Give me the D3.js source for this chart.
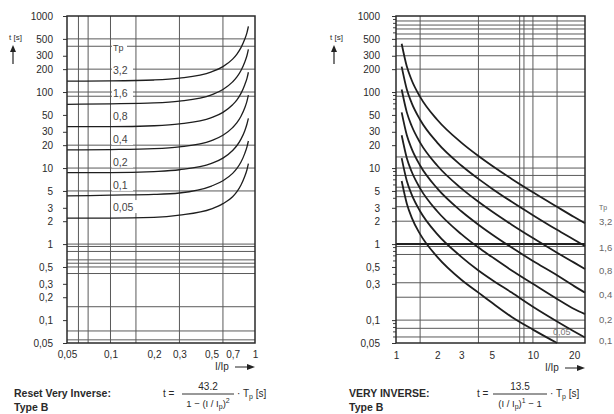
<!DOCTYPE html>
<html>
<head>
<meta charset="utf-8">
<script src="https://cdn.jsdelivr.net/npm/d3@7"></script>
<style>
  body { margin: 0; background: #fff; }
  svg text { font-family: "Liberation Sans", Arial, sans-serif; fill: #2a2a2a; }
</style>
</head>
<body>
<script>
// ---- data ----
const tpLabels = ['3,2', '1,6', '0,8', '0,4', '0,2', '0,1', '0,05'];

// reset very inverse (left)
const resetX = [0.05, 0.1, 0.2, 0.3, 0.5, 0.6, 0.7, 0.75, 0.8, 0.85, 0.88, 0.9];
const resetT = [
  [139, 140, 144, 152, 184, 216, 271, 316, 384, 498, 605, 728],
  [69, 70, 72, 76, 92, 108, 136, 158, 192, 249, 302, 364],
  [35, 35, 36, 38, 46, 54, 68, 79, 96, 125, 151, 182],
  [17.3, 17.5, 18, 19, 23, 27, 34, 39.5, 48, 62, 76, 91],
  [8.7, 8.7, 9.0, 9.5, 11.5, 13.5, 17, 19.8, 24, 31, 38, 45],
  [4.3, 4.4, 4.5, 4.7, 5.8, 6.8, 8.5, 9.9, 12, 15.6, 19, 22.7],
  [2.2, 2.2, 2.25, 2.4, 2.9, 3.4, 4.2, 4.9, 6.0, 7.8, 9.5, 11.4]
];

// very inverse (right)
const veryX = [1.1, 1.2, 1.3, 1.5, 2, 3, 4, 5, 7, 10, 15, 20, 24];
const veryT = [
  [432, 216, 144, 86.4, 43.2, 21.6, 14.4, 10.8, 7.2, 4.8, 3.09, 2.27, 1.88],
  [216, 108, 72, 43.2, 21.6, 10.8, 7.2, 5.4, 3.6, 2.4, 1.54, 1.14, 0.94],
  [108, 54, 36, 21.6, 10.8, 5.4, 3.6, 2.7, 1.8, 1.2, 0.77, 0.57, 0.47],
  [54, 27, 18, 10.8, 5.4, 2.7, 1.8, 1.35, 0.9, 0.6, 0.39, 0.28, 0.23],
  [27, 13.5, 9, 5.4, 2.7, 1.35, 0.9, 0.68, 0.45, 0.3, 0.19, 0.14, 0.12],
  [13.5, 6.75, 4.5, 2.7, 1.35, 0.68, 0.45, 0.34, 0.23, 0.15, 0.096, 0.071, 0.059],
  [6.75, 3.4, 2.25, 1.35, 0.68, 0.34, 0.23, 0.17, 0.11, 0.075, 0.05, null, null]
];

// ticks
const resetYTicks = [1000, 500, 300, 200, 100, 50, 30, 20, 10, 5, 3, 2, 1, 0.5, 0.3, 0.2, 0.1, 0.05];
const veryYTicks  = [1000, 500, 300, 200, 100, 50, 30, 20, 10, 5, 3, 2, 1, 0.5, 0.3, 0.1, 0.05];
const resetXTicks = [0.05, 0.1, 0.2, 0.3, 0.5, 0.7, 1];
const veryXTicks  = [1, 2, 3, 5, 10, 20];

// scanned grid lines
const resetGridY = [500, 400, 200, 100, 88, 20, 10, 5, 1, 0.93, 0.8, 0.62, 0.56, 0.5, 0.41, 0.15, 0.072, 0.055];
const resetGridX = [0.06, 0.07, 0.1, 0.15, 0.3, 0.6];
const veryGridY  = [860, 760, 675, 580, 500, 400, 300, 200, 100, 88, 14, 10, 8, 5.6, 5, 4.2, 3.1, 2, 1, 0.93, 0.73, 0.31, 0.2, 0.1, 0.078, 0.06];
const veryGridX  = [1.5, 4, 8, 8.6, 10, 15];
const veryMinorY = [900, 800, 700, 600, 400, 90, 80, 70, 60, 40, 9, 8, 7, 6, 4, 0.9, 0.8, 0.7, 0.6, 0.4, 0.09, 0.08, 0.07, 0.06];

const fmt = (d) => String(d).replace('.', ',');

const svg = d3.select('body')
  .append('svg')
    .attr('width', 614)
    .attr('height', 414);

// draw one panel
function panel(opts) {
  const { x, y } = opts;
  const [x0, x1] = x.range();
  const [y1, y0] = y.range();
  const g = svg.append('g');

  // grid
  g.selectAll('.gy').data(opts.gridY).join('line')
    .attr('x1', x0).attr('x2', x1)
    .attr('y1', (d) => y(d)).attr('y2', (d) => y(d))
    .attr('stroke', '#5a5a5a').attr('stroke-width', 1);
  g.selectAll('.gx').data(opts.gridX).join('line')
    .attr('y1', y0).attr('y2', y1)
    .attr('x1', (d) => x(d)).attr('x2', (d) => x(d))
    .attr('stroke', '#5a5a5a').attr('stroke-width', 1);

  if (opts.thickY) {
    g.append('line')
      .attr('x1', x0).attr('x2', x1)
      .attr('y1', y(opts.thickY)).attr('y2', y(opts.thickY))
      .attr('stroke', '#222').attr('stroke-width', 2);
  }

  // minor ticks
  if (opts.minorY) {
    g.selectAll('.my').data(opts.minorY).join('line')
      .attr('x1', x0 - 3).attr('x2', x0)
      .attr('y1', (d) => y(d)).attr('y2', (d) => y(d))
      .attr('stroke', '#444');
  }

  // axes
  const ya = g.append('g')
    .attr('transform', `translate(${x0},0)`)
    .call(d3.axisLeft(y).tickValues(opts.yTicks).tickFormat(fmt).tickSize(4).tickPadding(opts.yPad));
  ya.select('.domain').remove();
  ya.selectAll('line').attr('stroke', '#333');
  ya.selectAll('text').attr('font-size', 10).style('fill', '#2a2a2a');

  const xa = g.append('g')
    .attr('transform', `translate(0,${y1})`)
    .call(d3.axisBottom(x).tickValues(opts.xTicks).tickFormat(fmt).tickSize(0).tickPadding(opts.xPad));
  xa.select('.domain').remove();
  xa.selectAll('text').attr('font-size', 10).style('fill', '#2a2a2a');

  // curves
  const line = d3.line()
    .defined((d) => d[1] != null)
    .x((d) => x(d[0]))
    .y((d) => y(d[1]))
    .curve(d3.curveMonotoneX);

  g.selectAll('.curve').data(opts.series).join('path')
    .attr('d', (s) => line(opts.xs.map((v, i) => [v, s[i]])))
    .attr('fill', 'none')
    .attr('stroke', '#1e1e1e')
    .attr('stroke-width', opts.curveWidth);

  // border
  g.append('rect')
    .attr('x', x0).attr('y', y0)
    .attr('width', x1 - x0).attr('height', y1 - y0)
    .attr('fill', 'none').attr('stroke', '#2a2a2a').attr('stroke-width', 1.5);

  // t [s] with arrow
  g.append('text')
    .attr('x', opts.tx).attr('y', 40)
    .attr('font-size', 8)
    .text('t [s]');
  g.append('line')
    .attr('x1', opts.tx + 4).attr('x2', opts.tx + 4)
    .attr('y1', 64).attr('y2', 50)
    .attr('stroke', '#222').attr('stroke-width', 1.2);
  g.append('path')
    .attr('d', `M${opts.tx + 1},${52} L${opts.tx + 4},${45} L${opts.tx + 7},${52} Z`)
    .attr('fill', '#222');

  // I/Ip arrow label
  g.append('text')
    .attr('x', x1 - 40).attr('y', opts.ipY)
    .attr('font-size', 10)
    .text('I/Ip');
  g.append('line')
    .attr('x1', x1 - 20).attr('x2', x1 - 4)
    .attr('y1', opts.ipY - 3).attr('y2', opts.ipY - 3)
    .attr('stroke', '#222');
  g.append('path')
    .attr('d', `M${x1 - 8},${opts.ipY - 6} L${x1},${opts.ipY - 3} L${x1 - 8},${opts.ipY} Z`)
    .attr('fill', '#222');

  // title
  g.append('text')
    .attr('x', opts.titleX).attr('y', 397)
    .attr('font-size', 10.5).attr('font-weight', 'bold')
    .text(opts.title);
  g.append('text')
    .attr('x', opts.titleX).attr('y', 411)
    .attr('font-size', 10.5).attr('font-weight', 'bold')
    .text('Type B');

  // formula
  const f = opts.f;
  g.append('text').attr('x', f.t).attr('y', 397).attr('font-size', 10).text('t =');
  g.append('text').attr('x', (f.l0 + f.l1) / 2).attr('y', 390).attr('font-size', 10)
    .attr('text-anchor', 'middle').text(opts.num);
  g.append('line')
    .attr('x1', f.l0).attr('x2', f.l1)
    .attr('y1', 394).attr('y2', 394)
    .attr('stroke', '#333');
  const den = g.append('text').attr('x', (f.l0 + f.l1) / 2).attr('y', 407).attr('font-size', 9.5)
    .attr('text-anchor', 'middle');
  den.append('tspan').text(opts.denPre + '(I / I');
  den.append('tspan').attr('font-size', 7).attr('dy', 2).text('p');
  den.append('tspan').attr('dy', -2).text(')');
  den.append('tspan').attr('font-size', 7).attr('dy', -4).text(opts.exp);
  den.append('tspan').attr('dy', 4).text(opts.denPost);
  const tp = g.append('text').attr('x', f.l1 + 3).attr('y', 397).attr('font-size', 10);
  tp.append('tspan').text('· T');
  tp.append('tspan').attr('font-size', 7).attr('dy', 2).text('p');
  tp.append('tspan').attr('dy', -2).text('  [s]');

  return g;
}

// left panel
const xL = d3.scaleLog().domain([0.05, 1]).range([67, 255]);
const yL = d3.scaleLog().domain([0.05, 1000]).range([343, 16]);

const gL = panel({
  x: xL, y: yL,
  gridX: resetGridX, gridY: resetGridY,
  yTicks: resetYTicks, xTicks: resetXTicks,
  yPad: 10, xPad: 8,
  xs: resetX, series: resetT, curveWidth: 1.3,
  tx: 9, ipY: 370,
  title: 'Reset Very Inverse:', titleX: 14,
  f: { t: 163, l0: 182, l1: 234 }, num: '43.2', denPre: '1 − ', exp: '2', denPost: ''
});

// Tp labels in the left panel
const leftLab = gL.selectAll('.tp').data(['Tp'].concat(tpLabels)).join('g')
  .attr('transform', (d, i) => `translate(113,${i === 0 ? 47 : yL(resetT[i - 1][0]) - 11})`);
leftLab.append('rect')
  .attr('x', -1).attr('y', -7).attr('width', (d) => d.length * 6 + 3).attr('height', 13)
  .attr('fill', '#fff');
leftLab.append('text')
  .attr('y', 4).attr('font-size', (d, i) => i === 0 ? 9 : 10.5)
  .style('fill', '#444')
  .text((d) => d);

// right panel
const xR = d3.scaleLog().domain([1, 24]).range([396, 585]);
const yR = d3.scaleLog().domain([0.05, 1000]).range([343, 16]);

const gR = panel({
  x: xR, y: yR,
  gridX: veryGridX, gridY: veryGridY, thickY: 1, minorY: veryMinorY,
  yTicks: veryYTicks, xTicks: veryXTicks,
  yPad: 12, xPad: 9,
  xs: veryX, series: veryT, curveWidth: 1.8,
  tx: 330, ipY: 371,
  title: 'VERY INVERSE:', titleX: 349,
  f: { t: 477, l0: 493, l1: 547 }, num: '13.5', denPre: '', exp: '1', denPost: ' − 1'
});

// Tp labels right of the right panel
const rightY = [207, 222, 248, 271, 295, 320, 341];
gR.selectAll('.tpr').data(['Tp'].concat(tpLabels.slice(0, 6))).join('text')
  .attr('x', 599).attr('y', (d, i) => rightY[i] + 3)
  .attr('font-size', (d, i) => i === 0 ? 7 : 9.5)
  .style('fill', '#666')
  .text((d) => d);
gR.append('text')
  .attr('x', 553).attr('y', 335)
  .attr('font-size', 9)
  .style('fill', '#777')
  .text(tpLabels[6]);
</script>
</body>
</html>
